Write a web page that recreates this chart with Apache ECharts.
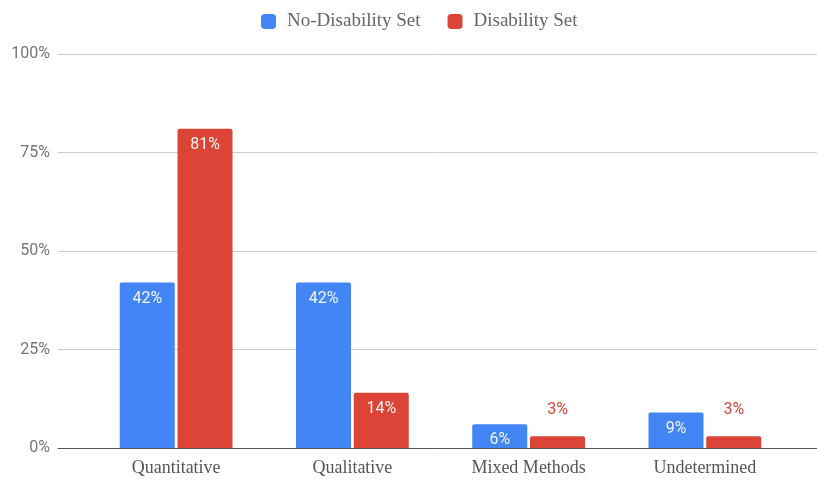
<!DOCTYPE html>
<html>
<head>
<meta charset="utf-8">
<script src="https://cdn.jsdelivr.net/npm/echarts@6/dist/echarts.min.js"></script>
<style>
  html, body { margin: 0; padding: 0; background: #fff; }
  #chart { width: 817px; height: 484px; }
</style>
</head>
<body>
<div id="chart"></div>
<script>
const categories = ['Quantitative', 'Qualitative', 'Mixed Methods', 'Undetermined'];
const noDisability = [42, 42, 6, 9];
const disability = [81, 14, 3, 3];
const yTicks = [0, 25, 50, 75, 100];

const BLUE = '#4285F4';
const RED = '#DB4437';

// Values too small to hold their label inside the bar get it above, in the bar colour.
function withLabels(values, color) {
  return values.map(v => {
    if (v >= 6) {
      return {
        value: v,
        label: { show: true, position: 'insideTop', distance: 8, color: '#f4f4f4' }
      };
    }
    return {
      value: v,
      label: { show: true, position: 'top', distance: 18, color: color }
    };
  });
}

const chart = echarts.init(document.getElementById('chart'), null, { renderer: 'canvas' });

chart.setOption({
  animation: false,
  legend: {
    top: 7,
    left: 256,
    itemWidth: 15,
    itemHeight: 15,
    itemGap: 27,
    icon: 'roundRect',
    textStyle: {
      fontFamily: 'Liberation Serif',
      fontSize: 19,
      color: '#666',
      padding: [0, 0, 0, 6]
    },
    data: ['No-Disability Set', 'Disability Set']
  },
  grid: [
    { left: 58, right: 0, top: 54, bottom: 36 },
    { left: 88, right: 24, top: 54, bottom: 36 }
  ],
  xAxis: [
    {
      gridIndex: 0,
      type: 'value',
      min: 0, max: 1,
      axisLine: { show: true, onZero: false, lineStyle: { color: '#555', width: 1 } },
      axisTick: { show: false },
      axisLabel: { show: false },
      splitLine: { show: false }
    },
    {
      gridIndex: 1,
      type: 'category',
      data: categories,
      axisLine: { show: false },
      axisTick: { show: false },
      axisLabel: {
        margin: 11,
        fontFamily: 'Liberation Serif',
        fontSize: 18,
        color: '#555'
      }
    }
  ],
  yAxis: [
    {
      gridIndex: 0,
      type: 'value',
      min: yTicks[0],
      max: yTicks[yTicks.length - 1],
      interval: 25,
      axisLine: { show: false },
      axisTick: { show: false },
      axisLabel: {
        margin: 8,
        fontFamily: 'Roboto',
        fontSize: 16,
        color: '#757575',
        padding: [4, 0, 0, 0],
        formatter: v => v + '%'
      },
      splitLine: { lineStyle: { color: '#ccc', width: 1 } }
    },
    {
      gridIndex: 1,
      type: 'value',
      min: yTicks[0],
      max: yTicks[yTicks.length - 1],
      interval: 25,
      show: false,
      splitLine: { show: false }
    }
  ],
  series: [
    {
      name: 'No-Disability Set',
      type: 'bar',
      xAxisIndex: 1,
      yAxisIndex: 1,
      barWidth: 55,
      barGap: '5%',
      itemStyle: { color: BLUE, borderRadius: [2, 2, 0, 0] },
      label: { fontFamily: 'Roboto', fontSize: 16, formatter: p => p.value + '%' },
      data: withLabels(noDisability, BLUE),
      z: 3
    },
    {
      name: 'Disability Set',
      type: 'bar',
      xAxisIndex: 1,
      yAxisIndex: 1,
      barWidth: 55,
      barGap: '5%',
      itemStyle: { color: RED, borderRadius: [2, 2, 0, 0] },
      label: { fontFamily: 'Roboto', fontSize: 16, formatter: p => p.value + '%' },
      data: withLabels(disability, RED),
      z: 3
    }
  ]
});
</script>
</body>
</html>
